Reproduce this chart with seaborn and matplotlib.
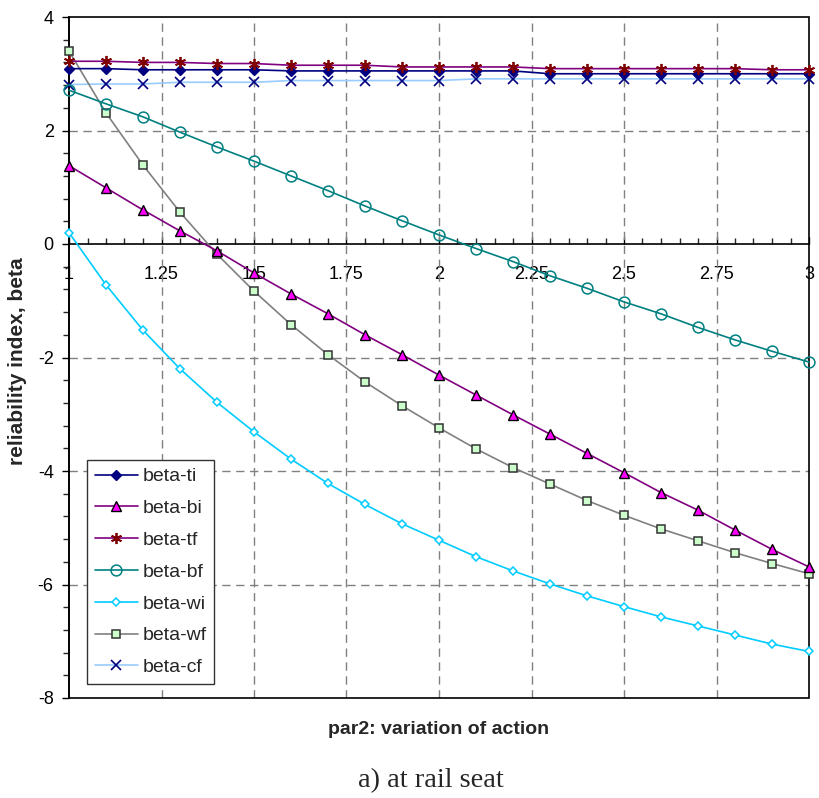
import numpy as np
import matplotlib
matplotlib.use("Agg")
import matplotlib.pyplot as plt
import seaborn as sns
from matplotlib.ticker import MultipleLocator, FixedLocator
from matplotlib.patches import Rectangle

# ---- data ----
x_vals = [1.0, 1.1, 1.2, 1.3, 1.4, 1.5, 1.6, 1.7, 1.8, 1.9, 2.0,
          2.1, 2.2, 2.3, 2.4, 2.5, 2.6, 2.7, 2.8, 2.9, 3.0]
beta_ti = [3.09, 3.09, 3.07, 3.07, 3.07, 3.07, 3.05, 3.05, 3.05, 3.05, 3.05,
           3.05, 3.05, 3.00, 3.00, 3.00, 3.00, 3.00, 3.00, 3.00, 3.00]
beta_bi = [1.38, 0.99, 0.60, 0.23, -0.12, -0.51, -0.88, -1.23, -1.60, -1.95, -2.31,
           -2.66, -3.01, -3.35, -3.69, -4.03, -4.38, -4.69, -5.04, -5.38, -5.69]
beta_tf = [3.22, 3.22, 3.20, 3.20, 3.18, 3.18, 3.15, 3.15, 3.15, 3.12, 3.12,
           3.12, 3.12, 3.09, 3.09, 3.09, 3.09, 3.09, 3.09, 3.07, 3.07]
beta_bf = [2.71, 2.47, 2.24, 1.97, 1.71, 1.46, 1.20, 0.94, 0.67, 0.41, 0.16,
           -0.08, -0.31, -0.56, -0.78, -1.02, -1.23, -1.47, -1.69, -1.89, -2.08]
beta_wi = [0.20, -0.72, -1.52, -2.20, -2.79, -3.31, -3.79, -4.22, -4.59, -4.93, -5.22,
           -5.51, -5.76, -5.99, -6.20, -6.39, -6.57, -6.73, -6.89, -7.05, -7.18]
beta_wf = [3.40, 2.31, 1.39, 0.56, -0.18, -0.83, -1.42, -1.95, -2.43, -2.85, -3.24,
           -3.61, -3.94, -4.23, -4.52, -4.78, -5.02, -5.23, -5.44, -5.63, -5.81]
beta_cf = [2.81, 2.82, 2.82, 2.85, 2.85, 2.85, 2.88, 2.88, 2.88, 2.88, 2.88,
           2.91, 2.91, 2.91, 2.91, 2.91, 2.91, 2.91, 2.91, 2.91, 2.91]
series_names = ["beta-ti", "beta-bi", "beta-tf", "beta-bf", "beta-wi", "beta-wf", "beta-cf"]
x_tick_labels = ["1", "1.25", "1.5", "1.75", "2", "2.25", "2.5", "2.75", "3"]
y_tick_labels = ["-8", "-6", "-4", "-2", "0", "2", "4"]

# ---- styles ----
styles = {
    "beta-ti": dict(color="#000080", marker="D", ms=4.8, mfc="#000080", mec="#000080", mew=1.0),
    "beta-bi": dict(color="#800080", marker="^", ms=7.5, mfc="#FF00FF", mec="black", mew=1.0),
    "beta-tf": dict(color="#800080", marker=(6, 2, 0), ms=8, mfc="#800000", mec="#800000", mew=1.3),
    "beta-bf": dict(color="#008080", marker="o", ms=7.8, mfc="none", mec="#008080", mew=1.1),
    "beta-wi": dict(color="#00CCFF", marker="D", ms=4.3, mfc="white", mec="#00CCFF", mew=1.1),
    "beta-wf": dict(color="#808080", marker="s", ms=5.5, mfc="#CCFFCC", mec="#333333", mew=1.1),
    "beta-cf": dict(color="#99CCFF", marker="x", ms=7, mfc="#000080", mec="#000080", mew=1.2),
}
data_map = dict(zip(series_names, [beta_ti, beta_bi, beta_tf, beta_bf, beta_wi, beta_wf, beta_cf]))

sns.set_style("white")
plt.rcParams["font.family"] = ["Liberation Sans", "DejaVu Sans"]

fig = plt.figure(figsize=(8.2, 7.98), dpi=100)
ax = fig.add_axes([69 / 820, 1 - 698 / 798, 740 / 820, 681 / 798])

draw_order = ["beta-cf", "beta-wi", "beta-wf", "beta-bf", "beta-bi", "beta-ti", "beta-tf"]
for name in draw_order:
    st = styles[name]
    sns.lineplot(x=x_vals, y=data_map[name], ax=ax, color=st["color"], lw=1.2,
                 marker=st["marker"], markersize=st["ms"], markerfacecolor=st["mfc"],
                 markeredgecolor=st["mec"], markeredgewidth=st["mew"], label=name,
                 sort=False, estimator=None, clip_on=False, zorder=3)

ax.set_xlim(1, 3)
ax.set_ylim(-8, 4)

# grid
x_major = [1 + 0.25 * i for i in range(len(x_tick_labels))]
y_major = [-8 + 2 * i for i in range(len(y_tick_labels))]
for xv in x_major[1:-1]:
    ax.axvline(xv, color="#808080", lw=1.0, ls=(0, (6, 4)), zorder=1)
for yv in y_major[1:-1]:
    if yv != 0:
        ax.axhline(yv, color="#808080", lw=1.0, ls=(0, (6, 4)), zorder=1)

# spines
for s in ["top", "right"]:
    ax.spines[s].set_visible(False)
ax.spines["bottom"].set_position(("data", 0))
ax.spines["bottom"].set_color("black")
ax.spines["bottom"].set_linewidth(1.2)
ax.spines["left"].set_color("black")
ax.spines["left"].set_linewidth(1.2)
ax.add_patch(Rectangle((0, 0), 1, 1, transform=ax.transAxes, fill=False,
                       ec="black", lw=1.2, clip_on=False, zorder=2))

ax.xaxis.set_major_locator(FixedLocator(x_major))
ax.set_xticklabels(x_tick_labels)
ax.xaxis.set_minor_locator(MultipleLocator(0.05))
ax.yaxis.set_major_locator(FixedLocator(y_major))
ax.set_yticklabels(y_tick_labels)
ax.yaxis.set_minor_locator(MultipleLocator(0.4))

ax.tick_params(axis="x", which="major", direction="in", length=5, width=1, pad=16,
               labelsize=13, colors="black", bottom=True)
ax.tick_params(axis="x", which="minor", direction="in", length=4, width=1, bottom=True)
ax.tick_params(axis="y", which="major", direction="out", length=5, width=1, pad=6,
               labelsize=13, colors="black", left=True)
ax.tick_params(axis="y", which="minor", direction="out", length=4, width=1, left=True)

ax.set_xlabel("")
ax.set_ylabel("")
fig.text(439 / 820, 1 - 729 / 798, "par2: variation of action", ha="center", va="center",
         fontsize=14, fontweight="bold")
fig.text(18 / 820, 1 - 361 / 798, "reliability index, beta", ha="center", va="center",
         rotation=90, fontsize=15, fontweight="bold")
fig.text(431 / 820, 1 - 781 / 798, "a) at rail seat", ha="center", va="center",
         fontsize=20.5, family=["Liberation Serif", "DejaVu Serif"])

# legend in reference order
h, l = ax.get_legend_handles_labels()
hm = dict(zip(l, h))
leg = ax.legend([hm[n] for n in series_names], series_names, loc="lower left",
                bbox_to_anchor=(18 / 740, 14 / 681), borderaxespad=0, fontsize=14,
                frameon=True, fancybox=False, edgecolor="#333333", framealpha=1,
                labelspacing=0.73, handlelength=2.2, handletextpad=0.25,
                borderpad=0.4)
leg.get_frame().set_linewidth(1.0)
leg.set_zorder(5)

fig.savefig("out.png", dpi=100)
